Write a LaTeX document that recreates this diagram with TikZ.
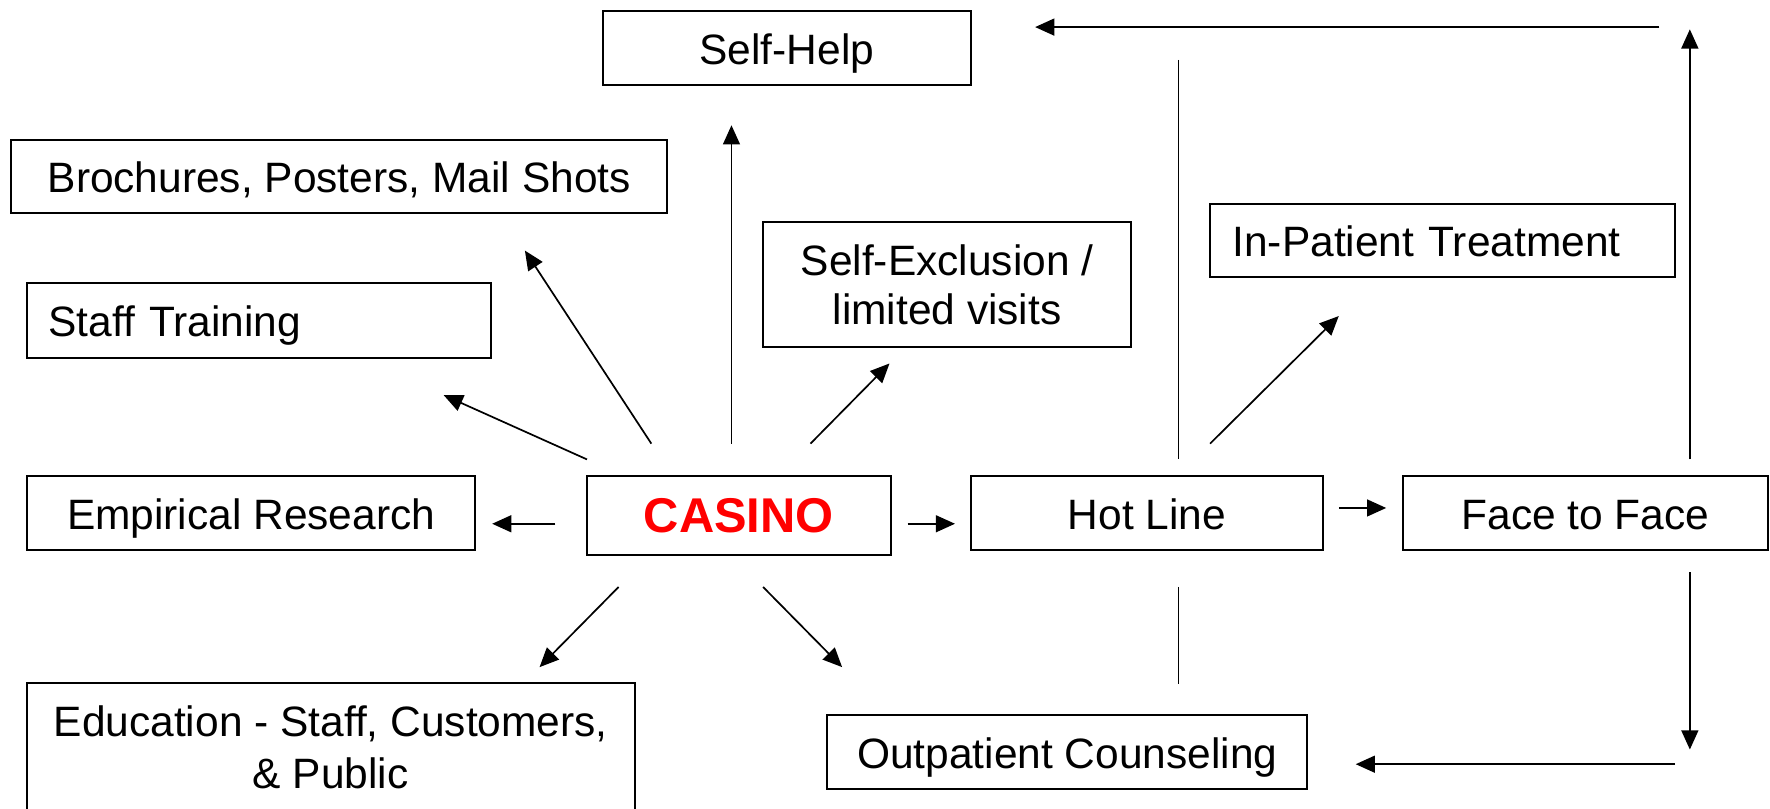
\documentclass[tikz,border=0pt]{standalone}
\usepackage{fontspec}
\setmainfont{Liberation Sans}
\usetikzlibrary{arrows.meta}
\begin{document}
\begin{tikzpicture}[x=0.01cm,y=-0.01cm,
  box/.style={draw, line width=0.5pt, inner sep=0pt, align=center,
    font=\fontsize{10.7pt}{12.3pt}\selectfont},
  one/.style={text height=0.82em, text depth=0pt},
  arr/.style={line width=0.43pt, -{Triangle[length=0.17cm,width=0.15cm]}},
  plain/.style={line width=0.43pt}]
\useasboundingbox (0,0) rectangle (1568,716);
\fill[white] (0,0) rectangle (1568,716);
% boxes
\node[box, one, minimum width=3.26cm, minimum height=0.65cm] (selfhelp) at (697,42.5) {Self-Help};
\node[box, one, minimum width=5.81cm, minimum height=0.65cm] (broch) at (300.5,156.5) {Brochures, Posters, Mail Shots};
\node[box, one, minimum width=4.11cm, minimum height=0.66cm, text width=3.73cm, align=left, inner xsep=0.19cm] (staff) at (229.5,284) {Staff Training};
\node[box, minimum width=3.26cm, minimum height=1.11cm, yshift=-0.025cm] (selfex) at (839,249.5) {Self-Exclusion /\\limited visits};
\node[box, one, minimum width=4.12cm, minimum height=0.64cm, text width=3.72cm, align=left, inner xsep=0.2cm] (inpat) at (1278,213) {In-Patient Treatment};
\node[box, one, minimum width=3.97cm, minimum height=0.65cm] (empir) at (222.5,454.5) {Empirical Research};
\node[box, one, minimum width=2.69cm, minimum height=0.70cm, text=red, font=\fontsize{12.3pt}{14pt}\selectfont\bfseries] (casino) at (654.5,457) {CASINO};
\node[box, one, minimum width=3.12cm, minimum height=0.65cm] (hotline) at (1016,454.5) {Hot Line};
\node[box, one, minimum width=3.23cm, minimum height=0.65cm] (face) at (1404.5,454.5) {Face to Face};
\node[box, minimum width=5.38cm, minimum height=1.14cm, font=\fontsize{10.7pt}{13.1pt}\selectfont] (educ) at (293,662) {Education - Staff, Customers,\\\& Public};
\node[box, one, minimum width=4.25cm, minimum height=0.66cm] (outpat) at (945.5,666) {Outpatient Counseling};
% arrow end points
\coordinate (c1a) at (648,393); \coordinate (c1b) at (648,111);
\coordinate (c2a) at (577,393); \coordinate (c2b) at (465,222);
\coordinate (c3a) at (520,407); \coordinate (c3b) at (393,350);
\coordinate (c4a) at (718,393); \coordinate (c4b) at (788,322);
\coordinate (c5a) at (492,464); \coordinate (c5b) at (436,464);
\coordinate (c6a) at (804,464); \coordinate (c6b) at (846,464);
\coordinate (c7a) at (548,520); \coordinate (c7b) at (478,591);
\coordinate (c8a) at (676,520); \coordinate (c8b) at (746,591);
\coordinate (h1a) at (1072,393); \coordinate (h1b) at (1186,280);
\coordinate (h2a) at (1186,450); \coordinate (h2b) at (1228,450);
\coordinate (v1a) at (1044,53); \coordinate (v1b) at (1044,407);
\coordinate (v2a) at (1044,520); \coordinate (v2b) at (1044,606);
\coordinate (f1a) at (1497,407); \coordinate (f1b) at (1497,26);
\coordinate (t1a) at (1470,24); \coordinate (t1b) at (917,24);
\coordinate (f2a) at (1497,507); \coordinate (f2b) at (1497,664);
\coordinate (b1a) at (1484,677); \coordinate (b1b) at (1201,677);
% connectors
\draw[arr] (c1a) -- (c1b);
\draw[arr] (c2a) -- (c2b);
\draw[arr] (c3a) -- (c3b);
\draw[arr] (c4a) -- (c4b);
\draw[arr] (c5a) -- (c5b);
\draw[arr] (c6a) -- (c6b);
\draw[arr] (c7a) -- (c7b);
\draw[arr] (c8a) -- (c8b);
\draw[arr] (h1a) -- (h1b);
\draw[arr] (h2a) -- (h2b);
\draw[plain] (v1a) -- (v1b);
\draw[plain] (v2a) -- (v2b);
\draw[arr] (f1a) -- (f1b);
\draw[arr] (t1a) -- (t1b);
\draw[arr] (f2a) -- (f2b);
\draw[arr] (b1a) -- (b1b);
\end{tikzpicture}
\end{document}
